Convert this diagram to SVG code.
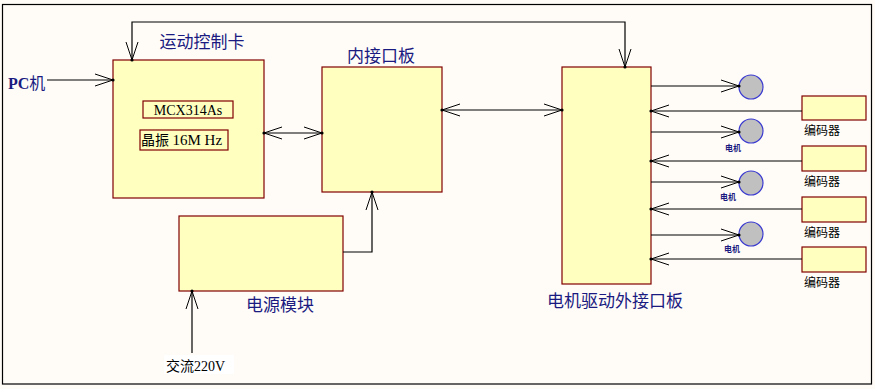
<svg xmlns="http://www.w3.org/2000/svg" width="875" height="389" viewBox="0 0 875 389">
<defs>
<style>
.box{fill:#ffffc0;stroke:#800000;stroke-width:1.2}
.inner{fill:none;stroke:#800000;stroke-width:1.2}
.ln{fill:none;stroke:#000;stroke-width:1.2}
.motor{fill:#c0c0c0;stroke:#3a3ad0;stroke-width:1.2}
.title{font-family:"Noto Sans CJK SC",sans-serif;font-size:17px;fill:#1a1a80}
.enc{font-family:"Noto Sans CJK SC",sans-serif;font-size:12px;fill:#000}
.mt{font-family:"Noto Sans CJK SC",sans-serif;font-size:8px;font-weight:bold;fill:#1a1a80}
.ser{font-family:"Liberation Serif","Noto Sans CJK SC",serif;font-size:14px;fill:#000}
</style>
<marker id="ar" markerUnits="userSpaceOnUse" viewBox="-19 -8 21 16" refX="0" refY="0" markerWidth="21" markerHeight="16" orient="auto-start-reverse">
<path d="M-18,-6 L0,0 L-18,6" fill="none" stroke="#000" stroke-width="1"/>
<circle cx="0" cy="0" r="1.6" fill="#000"/>
</marker>
</defs>
<rect x="0" y="0" width="875" height="389" fill="#fffcf8"/>
<rect x="2.5" y="4.5" width="869" height="379.5" fill="none" stroke="#000" stroke-width="1.2"/>

<g id="card">
<rect class="box" x="113" y="60" width="151" height="138"/>
<text class="title" x="202" y="48" text-anchor="middle">运动控制卡</text>
<rect class="inner" x="143" y="101" width="90" height="17"/>
<text class="ser" x="188" y="114.5" text-anchor="middle">MCX314As</text>
<rect class="inner" x="140" y="130" width="88" height="20"/>
<text class="ser" x="141" y="145">晶振 <tspan font-size="15">16M Hz</tspan></text>
</g>
<g id="pc"><text x="8" y="89" font-family="Liberation Serif,serif" font-size="16" font-weight="bold" fill="#1a1a80">PC<tspan font-family="Noto Sans CJK SC,sans-serif" font-weight="normal">机</tspan></text></g>

<g id="inner-board">
<rect class="box" x="322" y="67" width="120" height="125"/>
<text class="title" x="381" y="62" text-anchor="middle">内接口板</text>
</g>

<g id="power">
<rect class="box" x="179" y="216" width="164" height="75"/>
<text class="title" x="280" y="311" text-anchor="middle">电源模块</text>
</g>
<g id="ac"><rect x="164" y="355" width="70" height="19" fill="#ffffff"/><text class="ser" x="166" y="371" font-family="Noto Sans CJK SC,sans-serif" font-size="13">交流220V</text></g>

<g id="driver">
<rect class="box" x="562" y="67" width="89" height="217"/>
<text class="title" x="615" y="307" text-anchor="middle">电机驱动外接口板</text>
</g>

<g id="motor1"><circle class="motor" cx="751" cy="87" r="12"/></g>
<g id="motor2"><circle class="motor" cx="751" cy="131" r="12"/><text class="mt" x="733" y="151" text-anchor="middle">电机</text></g>
<g id="motor3"><circle class="motor" cx="751" cy="183" r="12"/><text class="mt" x="728" y="200" text-anchor="middle">电机</text></g>
<g id="motor4"><circle class="motor" cx="751" cy="234" r="12"/><text class="mt" x="732" y="252" text-anchor="middle">电机</text></g>

<g id="enc1"><rect class="box" x="802" y="96" width="64" height="24"/><text class="enc" x="804" y="135">编码器</text></g>
<g id="enc2"><rect class="box" x="802" y="146" width="64" height="25"/><text class="enc" x="804" y="186">编码器</text></g>
<g id="enc3"><rect class="box" x="802" y="197" width="64" height="25"/><text class="enc" x="804" y="237">编码器</text></g>
<g id="enc4"><rect class="box" x="802" y="247" width="64" height="25"/><text class="enc" x="804" y="287">编码器</text></g>

<g id="connectors">
<path class="ln" d="M47,80 H113" marker-end="url(#ar)"/>
<path class="ln" d="M132,60 V22 H625 V67" marker-start="url(#ar)" marker-end="url(#ar)"/>
<path class="ln" d="M264,133 H322" marker-start="url(#ar)" marker-end="url(#ar)"/>
<path class="ln" d="M442,110 H562" marker-start="url(#ar)" marker-end="url(#ar)"/>
<path class="ln" d="M343,252 H372 V192" marker-end="url(#ar)"/>
<path class="ln" d="M192,353 V291" marker-end="url(#ar)"/>
<path class="ln" d="M651,86 H739" marker-end="url(#ar)"/>
<path class="ln" d="M651,132 H739" marker-end="url(#ar)"/>
<path class="ln" d="M651,182 H739" marker-end="url(#ar)"/>
<path class="ln" d="M651,235 H739" marker-end="url(#ar)"/>
<path class="ln" d="M802,111 H651" marker-end="url(#ar)"/>
<path class="ln" d="M802,161 H651" marker-end="url(#ar)"/>
<path class="ln" d="M802,209 H651" marker-end="url(#ar)"/>
<path class="ln" d="M802,259 H651" marker-end="url(#ar)"/>
</g>
</svg>
